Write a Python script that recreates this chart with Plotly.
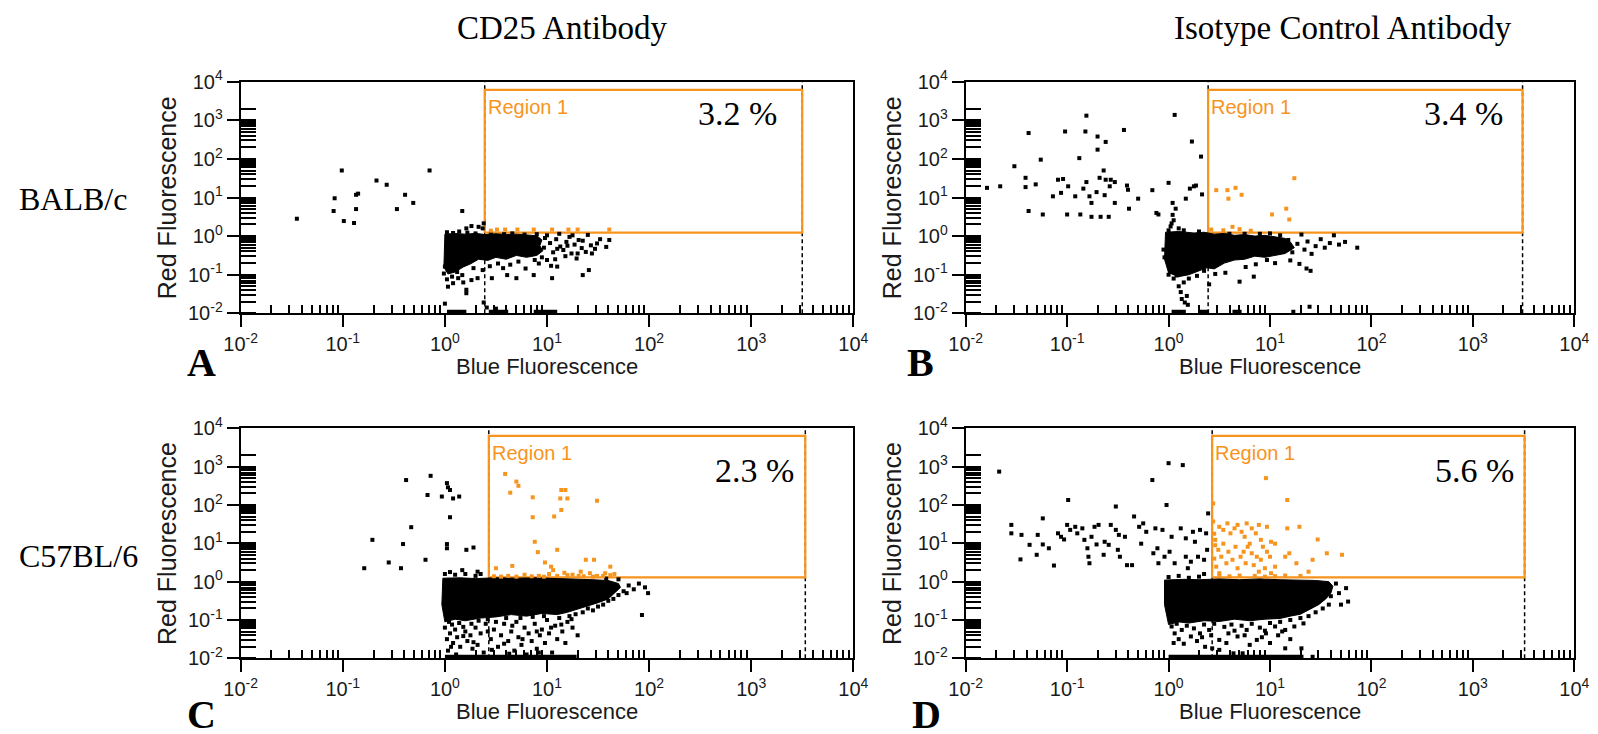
import plotly.graph_objects as go

W, H = 1598, 734

# ---------------- text content ----------------
col_titles = ["CD25 Antibody", "Isotype Control Antibody"]
row_labels = ["BALB/c", "C57BL/6"]
panel_names = ["A", "B", "C", "D"]
percent_text = ["3.2 %", "3.4 %", "2.3 %", "5.6 %"]
x_title = "Blue Fluorescence"
y_title = "Red Fluorescence"
region_label = "Region 1"
decades = [-2, -1, 0, 1, 2, 3, 4]
tick_text = ["10<sup>-2</sup>", "10<sup>-1</sup>", "10<sup>0</sup>", "10<sup>1</sup>",
             "10<sup>2</sup>", "10<sup>3</sup>", "10<sup>4</sup>"]

# ---------------- data (log10 units) ----------------
# gate rectangles: x0, x1, y0, y1
gate_A = [0.39, 3.50, 0.09, 3.79]
gate_B = [0.39, 3.49, 0.09, 3.79]
gate_C = [0.43, 3.53, 0.11, 3.80]
gate_D = [0.43, 3.51, 0.11, 3.80]

# dense cores (outline of the solid black event clouds)
A_core = [(0.0, 0.05), (0.1, 0.07), (0.2, 0.05), (0.3, 0.07), (0.4, 0.04), (0.5, 0.06), (0.6, 0.04),
          (0.7, 0.05), (0.8, 0.03), (0.9, 0.01), (0.95, -0.1), (0.93, -0.25), (0.96, -0.38),
          (0.9, -0.5), (0.8, -0.55), (0.7, -0.5), (0.6, -0.6), (0.5, -0.55), (0.42, -0.63),
          (0.33, -0.6), (0.25, -0.72), (0.18, -0.8), (0.1, -0.93), (0.03, -0.98), (-0.01, -0.8)]
B_core = [(-0.03, 0.1), (0.1, 0.12), (0.25, 0.08), (0.35, 0.1), (0.45, 0.05), (0.55, 0.07), (0.65, 0.02),
          (0.75, 0.04), (0.85, 0.0), (0.95, 0.02), (1.05, -0.02), (1.15, -0.06), (1.2, -0.15),
          (1.24, -0.3), (1.15, -0.45), (1.05, -0.5), (0.95, -0.55), (0.85, -0.52), (0.75, -0.6),
          (0.65, -0.62), (0.55, -0.7), (0.45, -0.85), (0.38, -0.82), (0.3, -0.9), (0.2, -1.0),
          (0.1, -1.05), (0.0, -0.95), (-0.04, -0.6)]
C_core = [(-0.02, 0.09), (0.15, 0.1), (0.3, 0.08), (0.5, 0.1), (0.7, 0.09), (0.9, 0.1), (1.1, 0.08),
          (1.3, 0.07), (1.45, 0.05), (1.6, 0.03), (1.7, -0.05), (1.72, -0.15), (1.66, -0.3),
          (1.6, -0.45), (1.5, -0.55), (1.42, -0.62), (1.3, -0.72), (1.2, -0.8), (1.1, -0.86),
          (0.95, -0.83), (0.8, -0.9), (0.65, -0.86), (0.5, -0.92), (0.35, -0.95), (0.2, -1.02),
          (0.1, -0.98), (0.0, -1.05), (-0.03, -0.6)]
D_core = [(-0.04, 0.04), (0.15, 0.06), (0.3, 0.05), (0.5, 0.07), (0.7, 0.05), (0.9, 0.07), (1.1, 0.05),
          (1.3, 0.04), (1.45, 0.03), (1.58, 0.0), (1.62, -0.12), (1.6, -0.3), (1.55, -0.45),
          (1.48, -0.6), (1.4, -0.72), (1.3, -0.85), (1.2, -0.9), (1.1, -0.96), (0.95, -0.98),
          (0.8, -1.02), (0.65, -0.98), (0.5, -1.04), (0.35, -1.02), (0.2, -1.08), (0.1, -1.05),
          (0.0, -1.12), (-0.04, -0.6)]

# events piled on the lower axis: (start, end) along x
A_floor = [(0.02, 0.21), (0.43, 0.62), (0.87, 1.10)]
B_floor = [(0.03, 0.17), (0.30, 0.40), (0.63, 0.72)]
C_floor = [(0.0, 1.29)]
D_floor = [(0.0, 1.33)]

A_black = [(-1.45, 0.45), (-1.01, 1.70), (-1.08, 0.98), (-1.09, 0.65), (-0.99, 0.39), (-0.89, 0.34),
           (-0.87, 1.07), (-0.85, 1.10), (-0.87, 0.70), (-0.67, 1.44), (-0.57, 1.33), (-0.47, 0.70),
           (-0.39, 1.07), (-0.31, 0.86), (-0.15, 1.70), (0.17, 0.65), (0.21, 0.20), (0.26, 0.26),
           (0.33, 0.24), (0.37, 0.20), (0.38, 0.33),
           (0.02, 0.10), (0.08, 0.08), (0.14, 0.12), (0.22, 0.09), (0.3, 0.07), (0.45, 0.06),
           (0.58, 0.05), (0.66, 0.07), (0.78, 0.04), (0.9, 0.05), (1.0, 0.02), (1.12, 0.06),
           (1.22, -0.02), (1.31, -0.10), (1.40, 0.03), (1.49, -0.19), (1.52, -0.08), (1.61, -0.10),
           (1.58, -0.28), (0.92, -0.12), (0.97, -0.3), (1.03, -0.18), (1.06, -0.42), (1.09, -0.08),
           (1.13, -0.27), (1.16, -0.36), (1.19, -0.15), (1.24, -0.45), (1.27, -0.22), (1.29, -0.58),
           (1.34, -0.31), (1.38, -0.41), (1.43, -0.24), (1.44, -0.45), (1.47, -0.33), (1.35, -0.12),
           (1.18, -0.52), (1.08, -0.6), (0.95, -0.55), (0.88, -0.62), (0.92, -0.71), (1.0, -0.62),
           (1.04, -0.77), (0.79, -0.84), (0.72, -0.66), (0.64, -0.74), (0.52, -0.71), (0.57, -0.83),
           (0.44, -0.78), (0.37, -0.88), (0.28, -0.83), (0.17, -1.01), (0.13, -1.09), (0.26, -1.14),
           (0.03, -1.31), (0.08, -1.22), (0.21, -1.39), (0.21, -1.48), (0.32, -1.09), (0.46, -1.09),
           (0.61, -1.01), (0.70, -1.09), (0.87, -1.01), (1.05, -1.09), (1.10, -0.79), (1.35, -1.01),
           (1.41, -0.88), (0.0, -0.79), (-0.01, -0.97), (0.05, -0.9), (0.1, -0.86), (0.02, -1.12),
           (0.12, -0.93), (0.07, -1.05), (0.18, -1.2), (0.38, -1.72), (0.41, -1.85), (0.5, -1.88),
           (0.0, -1.75), (0.98, -0.05), (1.1, -0.33), (1.2, -0.25), (1.3, -0.45), (1.25, 0.02)]
A_gate_pts = [(0.51, 0.17), (0.59, 0.17), (0.71, 0.17), (0.87, 0.17), (1.05, 0.17), (1.21, 0.17),
              (1.30, 0.17), (1.61, 0.17), (0.45, 0.14)]

B_black = [(-1.79, 1.25), (-1.66, 1.29), (-1.52, 1.81), (-1.41, 1.51), (-1.41, 1.27), (-1.38, 0.65),
           (-1.38, 2.67), (-1.31, 1.34), (-1.26, 1.98), (-1.24, 0.56), (-1.14, 1.03), (-1.09, 1.46),
           (-1.06, 1.12), (-1.04, 1.48), (-1.02, 2.71), (-1.0, 0.56), (-0.99, 1.29), (-0.92, 1.03),
           (-0.88, 2.02), (-0.87, 0.56), (-0.84, 1.23), (-0.82, 2.71), (-0.81, 3.12), (-0.81, 1.40),
           (-0.78, 1.03), (-0.76, 0.86), (-0.76, 0.50), (-0.71, 1.14), (-0.70, 2.58), (-0.70, 2.24),
           (-0.68, 1.51), (-0.67, 0.50), (-0.64, 1.70), (-0.63, 1.06), (-0.62, 2.44), (-0.62, 1.46),
           (-0.59, 0.50), (-0.58, 1.29), (-0.57, 1.46), (-0.53, 1.40), (-0.53, 0.86), (-0.44, 2.75),
           (-0.41, 1.31), (-0.40, 1.20), (-0.39, 0.71), (-0.30, 0.97), (-0.16, 1.19), (-0.12, 0.60),
           (-0.10, 0.56), (0.0, 1.38), (0.04, 0.86), (0.06, 3.14), (0.07, 0.71), (0.17, 0.97),
           (0.21, 1.23), (0.23, 2.45), (0.25, 1.29), (0.27, 1.31), (0.32, 2.06), (0.33, 1.08),
           (1.1, 0.02), (1.13, -0.3), (1.18, -0.1), (1.22, -0.42), (1.27, -0.2), (1.31, 0.04),
           (1.34, -0.35), (1.37, -0.14), (1.41, -0.46), (1.45, -0.26), (1.5, -0.08), (1.54, -0.3),
           (1.59, -0.18), (1.63, 0.02), (1.68, -0.22), (1.74, -0.15), (1.86, -0.3), (1.29, -0.72),
           (1.36, -0.84), (1.4, -0.9), (1.2, -0.63), (1.05, -0.7), (0.97, -0.62), (0.86, -0.73),
           (0.76, -0.8), (0.70, -1.18), (0.84, -1.05), (0.56, -0.95), (0.46, -0.98), (0.40, -1.25),
           (0.35, -0.9), (0.28, -1.03), (0.2, -1.1), (0.15, -1.2), (0.1, -1.3), (0.12, -1.45),
           (0.18, -1.55), (0.13, -1.63), (0.16, -1.72), (0.19, -1.78), (0.05, -1.1), (0.0, -1.0),
           (0.08, -1.02), (0.02, -0.9), (0.0, 0.15), (0.02, 0.25), (0.03, 0.33), (0.05, 0.41),
           (0.04, 0.55), (0.1, 0.2), (0.15, 0.15), (0.3, 0.12), (-0.05, -0.35), (-0.04, -0.55),
           (1.0, 0.07), (0.9, 0.06), (0.75, 0.06), (0.6, 0.06), (1.39, -1.83), (1.23, -1.96)]
B_gate_pts = [(0.47, 1.19), (0.58, 1.19), (0.59, 0.97), (0.66, 1.25), (0.72, 1.07), (1.02, 0.56),
              (1.16, 0.71), (1.19, 0.43), (1.24, 1.50), (0.63, 0.24), (0.81, 0.14), (0.54, 0.15),
              (0.42, 0.17), (0.70, 0.18)]

C_black = [(-0.79, 0.35), (-0.71, 1.09), (-0.55, 0.50), (-0.43, 0.35), (-0.41, 0.98), (-0.38, 2.65),
           (-0.33, 1.42), (-0.19, 0.57), (-0.17, 2.26), (-0.14, 2.76), (-0.03, 2.22), (0.02, 2.57),
           (0.02, 0.98), (0.03, 2.46), (0.05, 2.39), (0.05, 1.68), (0.08, 2.17), (0.14, 2.22),
           (0.02, 0.87), (0.21, 0.83), (0.28, 0.89), (0.17, 0.30), (0.32, 0.26), (0.35, 0.20),
           (0.0, -1.2), (0.05, -1.35), (0.02, -1.5), (0.1, -1.25), (0.12, -1.45), (0.08, -1.6),
           (0.15, -1.7), (0.03, -1.8), (0.2, -1.3), (0.22, -1.55), (0.25, -1.4), (0.3, -1.2),
           (0.32, -1.65), (0.35, -1.35), (0.38, -1.85), (0.4, -1.1), (0.45, -1.5), (0.48, -1.25),
           (0.52, -1.7), (0.55, -1.4), (0.58, -1.1), (0.62, -1.55), (0.65, -1.3), (0.68, -1.8),
           (0.7, -1.05), (0.72, -1.45), (0.75, -1.65), (0.78, -1.2), (0.8, -1.9), (0.82, -1.35),
           (0.85, -1.55), (0.88, -1.1), (0.9, -1.75), (0.93, -1.4), (0.95, -1.25), (0.98, -1.6),
           (1.0, -1.0), (1.02, -1.35), (1.05, -1.85), (1.08, -1.15), (1.1, -1.5), (1.12, -0.95),
           (1.15, -1.3), (1.18, -1.6), (1.2, -1.05), (1.22, -0.9), (1.25, -1.2), (1.28, -0.85),
           (1.3, -1.4), (1.35, -0.8), (1.4, -0.7), (1.45, -0.75), (1.5, -0.65), (1.55, -0.6),
           (1.6, -0.5), (1.65, -0.45), (1.7, -0.35), (1.75, -0.25), (1.8, -0.1), (1.78, -0.3),
           (1.85, -0.2), (1.93, -0.87), (1.99, -0.3), (1.96, -0.15), (1.9, -0.05), (0.0, 0.2),
           (0.05, 0.25), (0.1, 0.18), (0.2, 0.2), (0.3, 0.15), (1.7, 0.06), (1.58, 0.08),
           (0.04, -1.05), (0.07, -1.12), (0.14, -1.08), (0.18, -1.18), (0.26, -1.1), (0.33, -1.02),
           (0.42, -0.98), (0.5, -1.05), (0.6, -0.95), (0.74, -0.95), (0.86, -0.92), (0.97, -0.9),
           (0.06, -1.7), (0.18, -1.42), (0.28, -1.58), (0.42, -1.3), (0.58, -1.62), (0.66, -1.15),
           (0.76, -1.5), (0.9, -1.3), (1.04, -1.2), (1.14, -1.12), (1.24, -0.98), (0.11, -1.9),
           (0.27, -1.75), (0.46, -1.78), (0.63, -1.88), (0.92, -1.85)]
C_gate_pts = [(0.59, 2.81), (0.64, 2.32), (0.70, 2.61), (0.72, 2.50), (0.86, 2.20), (0.86, 1.68),
              (0.88, 1.04), (0.91, 0.77), (0.98, 0.50), (1.04, 0.39), (1.06, 0.30), (1.07, 1.70),
              (1.10, 0.83), (1.13, 2.17), (1.14, 2.39), (1.18, 2.39), (1.20, 2.17), (1.14, 1.87),
              (1.17, 0.23), (1.20, 0.17), (1.33, 0.26), (1.38, 0.57), (1.46, 0.57), (1.49, 2.11),
              (1.42, 0.22), (1.49, 0.15), (1.57, 0.22), (1.62, 0.39), (1.62, 0.17), (0.50, 0.35),
              (0.66, 0.41), (0.92, 0.15), (1.31, 0.15), (0.78, 0.18), (1.02, 0.2), (1.25, 0.18),
              (0.48, 0.14), (0.55, 0.13), (0.62, 0.15), (0.7, 0.13), (0.85, 0.14), (0.97, 0.13),
              (1.1, 0.15), (1.36, 0.14), (1.45, 0.13), (1.55, 0.15), (1.66, 0.2)]

D_black = [(-1.67, 2.87), (-1.55, 1.48), (-1.55, 1.26), (-1.45, 1.22), (-1.46, 0.58), (-1.37, 0.96),
           (-1.30, 0.70), (-1.29, 1.22), (-1.24, 1.65), (-1.24, 0.97), (-1.18, 0.87), (-1.13, 0.42),
           (-1.09, 1.26), (-1.06, 1.17), (-1.03, 1.10), (-1.0, 1.48), (-0.99, 2.13), (-0.97, 1.35),
           (-0.92, 1.43), (-0.90, 1.26), (-0.85, 1.39), (-0.83, 1.09), (-0.80, 0.87), (-0.79, 0.65),
           (-0.78, 0.48), (-0.76, 1.17), (-0.73, 1.43), (-0.71, 0.97), (-0.69, 1.48), (-0.64, 0.70),
           (-0.63, 1.04), (-0.59, 0.96), (-0.57, 1.48), (-0.52, 1.96), (-0.52, 1.35), (-0.50, 0.83),
           (-0.49, 1.22), (-0.48, 0.65), (-0.43, 1.17), (-0.41, 0.43), (-0.36, 0.43), (-0.34, 1.70),
           (-0.29, 1.43), (-0.27, 0.99), (-0.25, 1.52), (-0.22, 1.30), (-0.16, 2.65), (-0.15, 0.74),
           (-0.13, 1.39), (-0.11, 0.87), (-0.10, 0.48), (-0.06, 1.35), (-0.04, 0.65), (-0.02, 2.0),
           (0.0, 3.09), (0.01, 0.78), (0.03, 1.17), (0.06, 0.48), (0.12, 1.39), (0.14, 3.04),
           (0.17, 1.13), (0.17, 0.65), (0.19, 0.35), (0.22, 0.52), (0.24, 1.30), (0.26, 1.04),
           (0.29, 0.65), (0.31, 1.35), (0.35, 0.57), (0.37, 1.26), (0.39, 1.78), (0.38, 0.83),
           (0.0, 0.12), (0.1, 0.15), (0.2, 0.1), (0.3, 0.13), (0.35, 0.2),
           (0.03, -1.17), (0.06, -1.35), (0.13, -1.26), (0.22, -1.43), (0.31, -1.35), (0.40, -1.26),
           (0.50, -1.52), (0.59, -1.35), (0.68, -1.43), (0.77, -1.26), (0.87, -1.52), (0.96, -1.35),
           (1.05, -1.17), (1.15, -1.26), (1.24, -1.17), (1.33, -1.09), (0.36, -1.70), (0.43, -1.74),
           (0.50, -1.78), (0.64, -1.87), (0.73, -1.87), (1.15, -1.74), (1.31, -1.74), (1.42, -1.96),
           (0.08, -1.1), (0.18, -1.15), (0.25, -1.22), (0.35, -1.12), (0.45, -1.1), (0.55, -1.18),
           (0.62, -1.12), (0.72, -1.15), (0.82, -1.1), (0.9, -1.2), (1.0, -1.08), (1.1, -1.05),
           (1.2, -1.0), (1.3, -0.95), (1.38, -0.9), (1.45, -0.8), (1.52, -0.7), (1.58, -0.6),
           (1.6, -0.38), (1.65, -0.05), (1.68, -0.3), (1.75, -0.17), (1.77, -0.52), (1.7, -0.6),
           (0.1, -1.5), (0.15, -1.62), (0.28, -1.55), (0.33, -1.45), (0.57, -1.6), (0.8, -1.65),
           (0.92, -1.45), (1.0, -1.6), (1.08, -1.4), (1.2, -1.5), (0.05, -1.6), (0.42, -1.4),
           (0.65, -1.28), (0.75, -1.4), (0.95, -1.28), (1.12, -1.3)]
D_gate_pts = [(0.96, 2.70), (1.17, 2.13), (0.44, 1.57), (0.50, 1.43), (0.54, 1.35), (0.58, 1.52),
              (0.61, 1.26), (0.65, 1.39), (0.68, 1.48), (0.72, 1.30), (0.75, 1.17), (0.77, 1.52),
              (0.80, 0.99), (0.82, 1.39), (0.86, 1.26), (0.89, 1.48), (0.91, 1.09), (0.93, 0.91),
              (0.97, 1.43), (1.0, 0.65), (1.01, 1.04), (1.05, 0.99), (1.05, 0.39), (0.46, 1.09),
              (0.49, 0.83), (0.52, 0.65), (0.54, 0.99), (0.57, 0.48), (0.59, 0.78), (0.63, 0.57),
              (0.66, 0.91), (0.68, 0.35), (0.71, 0.65), (0.74, 0.78), (0.76, 0.48), (0.78, 0.91),
              (0.82, 0.74), (0.84, 0.43), (0.87, 0.65), (0.89, 0.26), (0.91, 0.57), (0.95, 0.35),
              (0.97, 0.78), (1.01, 0.22), (1.15, 0.65), (1.17, 1.39), (1.19, 0.74), (1.26, 0.48),
              (1.29, 1.43), (1.38, 0.26), (1.42, 0.57), (1.47, 1.10), (1.56, 0.74), (1.71, 0.70),
              (0.44, 2.04), (0.47, 0.39), (0.50, 0.22), (0.5, 0.15), (0.6, 0.14), (0.7, 0.16),
              (0.85, 0.15), (0.95, 0.13), (1.05, 0.14), (1.15, 0.16), (1.3, 0.15), (0.45, 1.25),
              (0.46, 0.95), (0.45, 0.6)]

# ---------------- layout geometry (pixels) ----------------
dom_px = {
    "A": ((240.7, 853.3), (81.7, 313.3)),
    "B": ((965.7, 1574.3), (81.7, 313.3)),
    "C": ((240.7, 853.3), (428.3, 658.3)),
    "D": ((965.7, 1574.3), (428.3, 658.3)),
}
pct_pos = {"A": (2.87, 3.17), "B": (2.91, 3.17), "C": (3.03, 2.91), "D": (3.02, 2.91)}

ORANGE = "#F7941E"
SANS = "Arial, Liberation Sans, sans-serif"
SERIF = "Times New Roman, Liberation Serif, serif"

panels = {
    "A": (A_core, A_floor, A_black, A_gate_pts, gate_A, percent_text[0]),
    "B": (B_core, B_floor, B_black, B_gate_pts, gate_B, percent_text[1]),
    "C": (C_core, C_floor, C_black, C_gate_pts, gate_C, percent_text[2]),
    "D": (D_core, D_floor, D_black, D_gate_pts, gate_D, percent_text[3]),
}


def fx(p):
    return p / W


def fy(p):
    return 1 - p / H


def lin(v):
    return 10 ** v


fig = go.Figure()
annotations = []

minor_x = [k * 10.0 ** n for n in range(-2, 4) for k in range(2, 10)]
minor_y = [k * 10.0 ** n for n in range(-2, 3) for k in range(1, 10)] + [1000, 2000]

for i, name in enumerate(panel_names):
    core, floor, black, gpts, gate, pct = panels[name]
    sfx = "" if i == 0 else str(i + 1)
    xr, yr = "x" + sfx, "y" + sfx
    (x0p, x1p), (y0p, y1p) = dom_px[name]

    ax_common = dict(
        type="log", range=[-2, 4], showline=True, linecolor="black", linewidth=2,
        mirror=True, ticks="outside", ticklen=12, tickwidth=2, tickcolor="black",
        tickmode="array", tickvals=[10.0 ** d for d in decades], ticktext=tick_text,
        tickfont=dict(family=SANS, size=20, color="#1a1a1a"), showgrid=False,
        zeroline=False, automargin=False, fixedrange=True,
    )
    fig.layout["xaxis" + sfx] = dict(
        ax_common, domain=[fx(x0p), fx(x1p)], anchor=yr,
        minor=dict(ticks="inside", ticklen=8, tickwidth=1.5, tickcolor="black",
                   tickmode="array", tickvals=minor_x, showgrid=False),
    )
    fig.layout["yaxis" + sfx] = dict(
        ax_common, domain=[fy(y1p), fy(y0p)], anchor=xr,
        minor=dict(ticks="inside", ticklen=15, tickwidth=1.5, tickcolor="black",
                   tickmode="array", tickvals=minor_y, showgrid=False),
    )

    gx0, gx1, gy0, gy1 = gate
    # dashed threshold lines
    fig.add_trace(go.Scatter(
        x=[lin(gx0), lin(gx0), None, lin(gx1), lin(gx1)],
        y=[lin(-2), lin(4), None, lin(-2), lin(4)],
        mode="lines", line=dict(color="black", width=1.5, dash="4px,3px"),
        xaxis=xr, yaxis=yr, hoverinfo="skip"))
    # gate rectangle
    fig.add_trace(go.Scatter(
        x=[lin(gx0), lin(gx1), lin(gx1), lin(gx0), lin(gx0)],
        y=[lin(gy0), lin(gy0), lin(gy1), lin(gy1), lin(gy0)],
        mode="lines", line=dict(color=ORANGE, width=2.2),
        xaxis=xr, yaxis=yr, hoverinfo="skip"))
    # dense core
    fig.add_trace(go.Scatter(
        x=[lin(p[0]) for p in core] + [lin(core[0][0])],
        y=[lin(p[1]) for p in core] + [lin(core[0][1])],
        mode="lines", fill="toself", fillcolor="black", line=dict(color="black", width=1),
        xaxis=xr, yaxis=yr, hoverinfo="skip"))
    # events on the lower axis
    fl_x, fl_y = [], []
    for a, b in floor:
        fl_x += [lin(a), lin(b), None]
        fl_y += [lin(-1.96), lin(-1.96), None]
    fig.add_trace(go.Scatter(
        x=fl_x, y=fl_y, mode="lines", line=dict(color="black", width=4),
        xaxis=xr, yaxis=yr, hoverinfo="skip"))
    # individual events
    fig.add_trace(go.Scatter(
        x=[lin(p[0]) for p in black], y=[lin(p[1]) for p in black], mode="markers",
        marker=dict(symbol="square", size=4, color="black", line=dict(width=0)),
        xaxis=xr, yaxis=yr, cliponaxis=False, hoverinfo="skip"))
    fig.add_trace(go.Scatter(
        x=[lin(p[0]) for p in gpts], y=[lin(p[1]) for p in gpts], mode="markers",
        marker=dict(symbol="square", size=4, color=ORANGE, line=dict(width=0)),
        xaxis=xr, yaxis=yr, cliponaxis=False, hoverinfo="skip"))

    # region label & percentage (annotation coords on log axes are log10)
    annotations.append(dict(xref=xr, yref=yr, x=gx0 + 0.01, y=3.35, text=region_label,
                            showarrow=False, xanchor="left", yanchor="middle",
                            font=dict(family=SANS, size=20, color=ORANGE)))
    px_, py_ = pct_pos[name]
    annotations.append(dict(xref=xr, yref=yr, x=px_, y=py_, text=pct, showarrow=False,
                            xanchor="center", yanchor="middle",
                            font=dict(family=SERIF, size=34, color="black")))

    # axis titles
    xc = (x0p + x1p) / 2
    annotations.append(dict(xref="paper", yref="paper", x=fx(xc), y=fy(y1p + 53), text=x_title,
                            showarrow=False, xanchor="center", yanchor="middle",
                            font=dict(family=SANS, size=22, color="#1a1a1a")))
    annotations.append(dict(xref="paper", yref="paper", x=fx(x0p - 73), y=fy((y0p + y1p) / 2),
                            text=y_title, textangle=-90, showarrow=False,
                            xanchor="center", yanchor="middle",
                            font=dict(family=SANS, size=25, color="#1a1a1a")))

# panel letters
letter_pos = {"A": (201, 362), "B": (920, 362), "C": (201, 714), "D": (926, 714)}
for name in panel_names:
    lx, ly = letter_pos[name]
    annotations.append(dict(xref="paper", yref="paper", x=fx(lx), y=fy(ly), text="<b>%s</b>" % name,
                            showarrow=False, xanchor="center", yanchor="middle",
                            font=dict(family=SERIF, size=40, color="black")))

# column titles and row labels
for t, cx in zip(col_titles, [562, 1343]):
    annotations.append(dict(xref="paper", yref="paper", x=fx(cx), y=fy(28), text=t,
                            showarrow=False, xanchor="center", yanchor="middle",
                            font=dict(family=SERIF, size=33, color="black")))
for t, cy in zip(row_labels, [199, 556]):
    annotations.append(dict(xref="paper", yref="paper", x=fx(17), y=fy(cy), text=t,
                            showarrow=False, xanchor="left", yanchor="middle",
                            font=dict(family=SERIF, size=32, color="black")))

fig.update_layout(
    width=W, height=H, margin=dict(l=0, r=0, t=0, b=0),
    paper_bgcolor="white", plot_bgcolor="white", showlegend=False,
    annotations=annotations,
)

fig.write_html("out.html", config={"displayModeBar": False},
               post_script="document.body.style.margin='0';")
